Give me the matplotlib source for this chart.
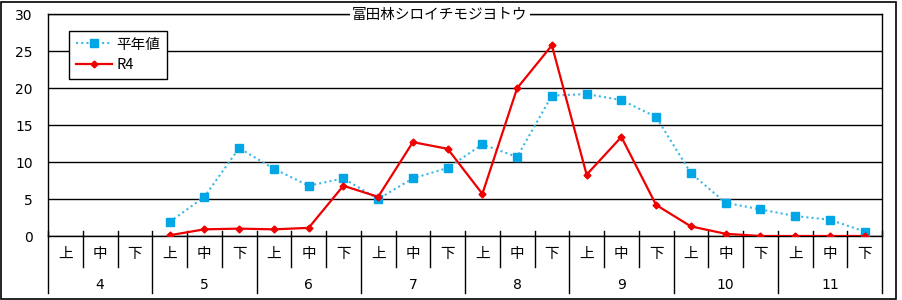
import numpy as np
import matplotlib
matplotlib.use("Agg")
import matplotlib.pyplot as plt
from matplotlib.transforms import blended_transform_factory
from matplotlib.patches import Rectangle

plt.rcParams['font.family'] = ['Noto Sans CJK JP', 'DejaVu Sans']

title = "富田林シロイチモジヨトウ"
months = ["4", "5", "6", "7", "8", "9", "10", "11"]
periods = ["上", "中", "下"]
nan = np.nan
heinen = [nan, nan, nan,
          1.9, 5.3, 11.9,
          9.1, 6.8, 7.8,
          5.0, 7.8, 9.2,
          12.4, 10.7, 19.0,
          19.2, 18.4, 16.1,
          8.5, 4.5, 3.6,
          2.7, 2.2, 0.6]
r4 = [nan, nan, nan,
      0.1, 0.9, 1.0,
      0.9, 1.1, 6.8,
      5.3, 12.7, 11.8,
      5.7, 20.0, 25.8,
      8.3, 13.4, 4.2,
      1.3, 0.3, 0.0,
      0.0, 0.0, 0.0]
yticks = [0, 5, 10, 15, 20, 25, 30]

W, H = 902, 300
fig = plt.figure(figsize=(W / 100, H / 100), dpi=100)
L, R, T, B = 48, 882, 14.3, 236
ax = fig.add_axes([L / W, 1 - B / H, (R - L) / W, (B - T) / H])

x = np.arange(len(heinen))
ax.plot(x, heinen, color='#3BB8E6', linestyle=(0, (1, 1.5)), linewidth=1.5,
        marker='s', markersize=5.5, markerfacecolor='#00A6E6',
        markeredgecolor='#00A6E6', label='平年値', zorder=3)
ax.plot(x, r4, color='#EE0000', linewidth=1.6, marker='D', markersize=3.5,
        markerfacecolor='#EE0000', markeredgecolor='#EE0000', label='R4', zorder=4)

ax.set_xlim(-0.5, len(heinen) - 0.5)
ax.set_ylim(0, 30)
ax.set_yticks(yticks)
ax.set_yticklabels([str(v) for v in yticks], fontsize=10, family=['DejaVu Sans'])
ax.tick_params(axis='y', length=0, pad=11)
ax.set_xticks([])
for v in yticks:
    ax.axhline(v, color='black', linewidth=1.0, zorder=1)
for s in ax.spines.values():
    s.set_color('black')
    s.set_linewidth(1.0)

# category table below axis
tr = blended_transform_factory(ax.transData, fig.transFigure)
def fy(py):
    return 1 - py / H
n = len(heinen)
for b in range(n + 1):
    xb = b - 0.5
    bottom = 293 if b % 3 == 0 else 267
    ax.plot([xb, xb], [fy(231), fy(bottom)], transform=tr, color='black',
            linewidth=1.0, clip_on=False)
for i in range(n):
    ax.text(i, fy(254), periods[i % 3], transform=tr, ha='center', va='center',
            fontsize=10.5)
for m, lab in enumerate(months):
    ax.text(3 * m + 1, fy(285), lab, transform=tr, ha='center', va='center',
            fontsize=10, family=['DejaVu Sans'])

# title
fig.text(440 / W, fy(15), title, ha='center', va='center', fontsize=10.5,
         bbox=dict(facecolor='white', edgecolor='none', pad=1.5), zorder=10)

# legend
leg = fig.legend(loc='upper left', bbox_to_anchor=(69 / W, fy(31)),
                 bbox_transform=fig.transFigure, borderaxespad=0,
                 fancybox=False, edgecolor='black', framealpha=1,
                 fontsize=10.5, handlelength=2.5, borderpad=0.45,
                 labelspacing=0.45, handletextpad=0.3)
leg.get_frame().set_linewidth(1.0)

# outer border
fig.patches.append(Rectangle((0.5 / W, 1.5 / H), 895 / W, 297 / H,
                             transform=fig.transFigure, fill=False,
                             edgecolor='black', linewidth=1.2))

fig.savefig('out.png', dpi=100)
